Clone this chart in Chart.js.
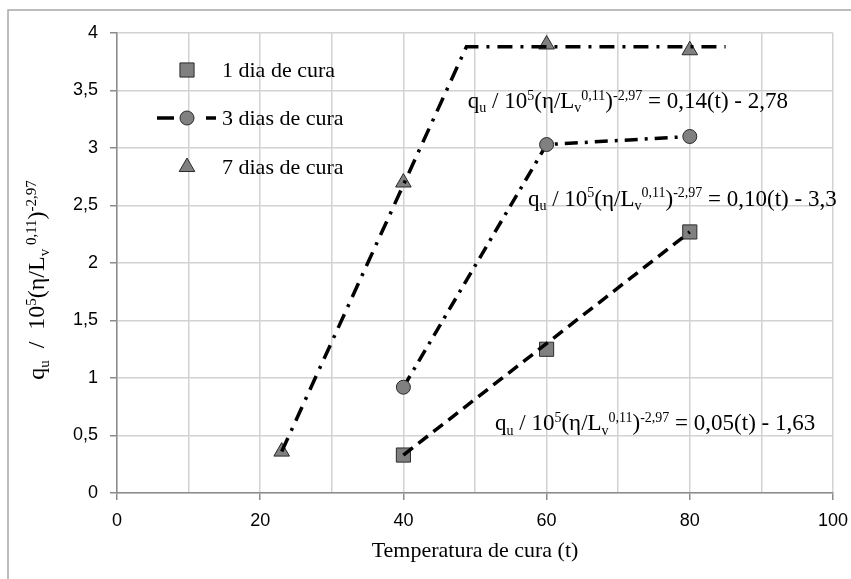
<!DOCTYPE html>
<html>
<head>
<meta charset="utf-8">
<script src="https://cdn.jsdelivr.net/npm/chart.js@4.4.1/dist/chart.umd.min.js"></script>
<style>
  html, body { margin: 0; padding: 0; background: #fff; }
  canvas { display: block; }
</style>
</head>
<body>
<canvas id="chart" width="851" height="579"></canvas>
<script>
const SERIES_NAMES = ["1 dia de cura", "3 dias de cura", "7 dias de cura"];

// temperatura de cura (t) vs. normalised strength, one pair of arrays per curing age
const cura1Temp = [40, 60, 80];
const cura1Valor = [0.33, 1.25, 2.27];
const cura3Temp = [40, 60, 80];
const cura3Valor = [0.92, 3.03, 3.10];
const cura7Temp = [23, 40, 60, 80];
const cura7Valor = [0.36, 2.70, 3.90, 3.85];

// fitted lines for 1 and 7 days
const ajuste1Temp = [40, 80];
const ajuste1Valor = [0.33, 2.27];
const ajuste7Temp = [23, 48.8, 85];
const ajuste7Valor = [0.36, 3.88, 3.88];

const X_LABELED = [0, 20, 40, 60, 80, 100];
const EQ_RHS = ["= 0,05(t) - 1,63", "= 0,10(t) - 3,3", "= 0,14(t) - 2,78"];

const SERIF = "'Liberation Serif', 'Times New Roman', serif";
const SANS = "'Liberation Sans', Arial, sans-serif";
const MARK_FILL = "#808080";
const MARK_EDGE = "#2b2b2b";
const GRID = "#d2d2d2";
const AXIS = "#8c8c8c";

const DASH_1 = [12, 7];
const DASH_3 = [13, 7, 3, 7];
const DASH_7 = [15, 8, 3, 8];

const pts = (xs, ys) => xs.map((x, i) => ({ x, y: ys[i] }));

// q_u / 10^5 (eta / L_v^0,11)^-2,97 with sub/superscripts
const lhsParts = [
  ["q", ""], ["u", "sub"], [" / 10", ""], ["5", "sup"], ["(\u03b7/L", ""],
  ["v", "sub"], ["0,11", "sup"], [")", ""], ["-2,97", "sup"],
];
// same expression, spaced out a little for the axis title
const yTitleParts = [
  ["q", ""], ["u", "sub"], ["  /  10", ""], ["5", "sup"], ["(\u03b7/L", ""],
  ["v", "sub"], [" 0,11", "sup"], [")", ""], ["-2,97", "sup"],
];

function drawRich(ctx, parts, x, y, big, small) {
  let cx = x;
  for (const [txt, kind] of parts) {
    ctx.font = (kind ? small : big) + "px " + SERIF;
    const dy = kind === "sub" ? big * 0.2 : kind === "sup" ? -big * 0.35 : 0;
    ctx.fillText(txt, cx, y + dy);
    cx += ctx.measureText(txt).width;
  }
  return cx - x;
}

function richWidth(ctx, parts, big, small) {
  let w = 0;
  for (const [txt, kind] of parts) {
    ctx.font = (kind ? small : big) + "px " + SERIF;
    w += ctx.measureText(txt).width;
  }
  return w;
}

// where each equation starts (data units): 1 dia, 3 dias, 7 dias
const eqAnchors = [
  { x: 52.8, y: 0.548 },
  { x: 57.4, y: 2.50 },
  { x: 49.0, y: 3.35 },
];

const extras = {
  id: "extras",
  beforeDraw(chart) {
    const ctx = chart.ctx;
    ctx.save();
    ctx.fillStyle = "#fff";
    ctx.fillRect(0, 0, chart.width, chart.height);
    ctx.strokeStyle = "#a8a8a8";
    ctx.lineWidth = 1.5;
    ctx.beginPath();
    ctx.moveTo(8, chart.height);
    ctx.lineTo(8, 10);
    ctx.lineTo(chart.width, 10);
    ctx.stroke();
    ctx.restore();
  },
  afterDraw(chart) {
    const ctx = chart.ctx;
    const xs = chart.scales.x;
    const ys = chart.scales.y;
    ctx.save();
    ctx.fillStyle = "#000";
    ctx.textBaseline = "alphabetic";
    ctx.textAlign = "left";

    // legend
    const lx = 187;
    const rows = [70, 118, 167];
    const styles = [
      { pointStyle: "rect", radius: 10 },
      { pointStyle: "circle", radius: 7 },
      { pointStyle: "triangle", radius: 9 },
    ];
    ctx.save();
    ctx.strokeStyle = "#000";
    ctx.lineWidth = 3.5;
    ctx.setLineDash([17, 32, 10, 100]);
    ctx.beginPath();
    ctx.moveTo(157, rows[1]);
    ctx.lineTo(216, rows[1]);
    ctx.stroke();
    ctx.restore();
    rows.forEach((ry, i) => {
      ctx.save();
      ctx.fillStyle = MARK_FILL;
      ctx.strokeStyle = MARK_EDGE;
      ctx.lineWidth = 1;
      Chart.helpers.drawPoint(ctx, { ...styles[i], rotation: 0, borderWidth: 1 }, lx, ry);
      ctx.restore();
      ctx.font = "22px " + SERIF;
      ctx.fillText(SERIES_NAMES[i], 222, ry + 7);
    });

    // fitted equations
    eqAnchors.forEach((a, i) => {
      const px = xs.getPixelForValue(a.x);
      const py = ys.getPixelForValue(a.y);
      const w = drawRich(ctx, lhsParts, px, py, 23, 14);
      ctx.font = "23px " + SERIF;
      ctx.fillText(" " + EQ_RHS[i], px + w, py);
    });

    // rotated y title
    ctx.save();
    ctx.translate(44, 280);
    ctx.rotate(-Math.PI / 2);
    const tw = richWidth(ctx, yTitleParts, 24, 15);
    drawRich(ctx, yTitleParts, -tw / 2, 0, 24, 15);
    ctx.restore();

    ctx.restore();
  },
};

const markerBase = {
  backgroundColor: MARK_FILL,
  borderColor: MARK_EDGE,
  borderWidth: 1,
  showLine: false,
};

new Chart(document.getElementById("chart"), {
  type: "scatter",
  data: {
    datasets: [
      {
        label: "ajuste 1",
        data: pts(ajuste1Temp, ajuste1Valor),
        showLine: true,
        borderColor: "#000",
        borderWidth: 3.5,
        borderDash: DASH_1,
        pointRadius: 0,
        order: 0,
      },
      {
        label: "ajuste 7",
        data: pts(ajuste7Temp, ajuste7Valor),
        showLine: true,
        borderColor: "#000",
        borderWidth: 3.5,
        borderDash: DASH_7,
        pointRadius: 0,
        order: 0,
      },
      {
        ...markerBase,
        label: SERIES_NAMES[0],
        data: pts(cura1Temp, cura1Valor),
        pointStyle: "rect",
        pointRadius: 10,
        order: 1,
      },
      {
        ...markerBase,
        label: SERIES_NAMES[2],
        data: pts(cura7Temp, cura7Valor),
        pointStyle: "triangle",
        pointRadius: 9,
        order: 1,
      },
      {
        label: SERIES_NAMES[1],
        data: pts(cura3Temp, cura3Valor),
        showLine: true,
        borderColor: "#000",
        borderWidth: 3.5,
        borderDash: DASH_3,
        pointStyle: "circle",
        pointRadius: 7,
        pointBackgroundColor: MARK_FILL,
        pointBorderColor: MARK_EDGE,
        pointBorderWidth: 1,
        order: 2,
      },
    ],
  },
  options: {
    responsive: false,
    animation: false,
    layout: { padding: { top: 33, right: 18, left: 0, bottom: 0 } },
    plugins: {
      legend: { display: false },
      tooltip: { enabled: false },
    },
    scales: {
      x: {
        type: "linear",
        min: 0,
        max: 100,
        afterFit: (s) => {
          s.height = 86;
          s.paddingLeft = 0;
          s.paddingRight = 0;
        },
        title: {
          display: true,
          text: "Temperatura de cura (t)",
          color: "#000",
          font: { family: SERIF, size: 22 },
          padding: { top: 4, bottom: 15 },
        },
        grid: {
          color: GRID,
          lineWidth: 1.5,
          tickLength: 7,
          tickWidth: 1.5,
          tickColor: (c) =>
            c.tick && X_LABELED.includes(c.tick.value) ? AXIS : "rgba(0,0,0,0)",
        },
        border: { color: AXIS, width: 1.5 },
        ticks: {
          stepSize: 10,
          autoSkip: false,
          maxRotation: 0,
          padding: 10,
          color: "#000",
          font: { family: SANS, size: 18 },
          callback: (v) => (X_LABELED.includes(v) ? String(v) : ""),
        },
      },
      y: {
        type: "linear",
        min: 0,
        max: 4,
        afterFit: (s) => { s.width = 117; },
        grid: {
          color: GRID,
          lineWidth: 1.5,
          tickLength: 7,
          tickWidth: 1.5,
          tickColor: AXIS,
        },
        border: { color: AXIS, width: 1.5 },
        ticks: {
          stepSize: 0.5,
          padding: 12,
          color: "#000",
          font: { family: SANS, size: 18 },
          callback: (v) => String(v).replace(".", ","),
        },
      },
    },
  },
  plugins: [extras],
});
</script>
</body>
</html>
